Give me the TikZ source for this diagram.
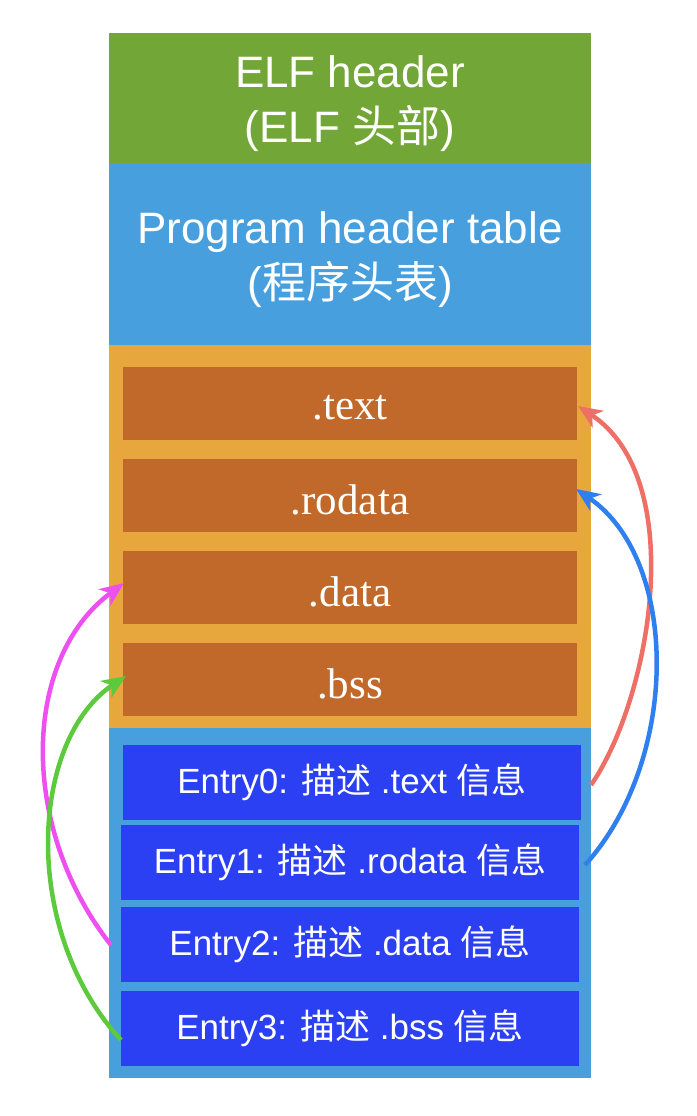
\documentclass[tikz,border=0pt]{standalone}
\usepackage{fontspec}
\setmainfont{Liberation Sans}
\newfontfamily\cjk{Noto Sans CJK SC}
\newfontfamily\serif{Liberation Serif}
\usetikzlibrary{arrows.meta}
\definecolor{cgreen}{HTML}{72A637}
\definecolor{cblue}{HTML}{479FDD}
\definecolor{corange}{HTML}{E8A73D}
\definecolor{csec}{HTML}{C1692A}
\definecolor{centry}{HTML}{2B3FF3}
\definecolor{cred}{HTML}{EE6F66}
\definecolor{carrb}{HTML}{2F7FEF}
\definecolor{cmag}{HTML}{EE4FF0}
\definecolor{cgr}{HTML}{5DC93D}
\begin{document}
\begin{tikzpicture}[x=1pt,y=-1pt,
 band/.style={draw=none,text=white,align=center,inner sep=0},
 sec/.style={fill=csec,text=white,inner sep=0,font=\serif\fontsize{43}{50}\selectfont},
 lbl/.style={text=white,inner sep=0,font=\serif\fontsize{43}{50}\selectfont},
 entry/.style={fill=centry,text=white,inner sep=0,font=\fontsize{35}{40}\selectfont},
 arr/.style={line width=4.5pt,-{Stealth[length=24pt,width=20pt,inset=7pt]}}]
\useasboundingbox (0,0) rectangle (696,1116);
\fill[cgreen] (109,33) rectangle (591,163);
\fill[cblue] (109,163) rectangle (591,345);
\fill[corange] (109,345) rectangle (591,728);
\fill[cblue] (109,728) rectangle (591,1078);
\node[band,font=\fontsize{44}{55}\selectfont] (elf) at (350,104) {ELF header\\(ELF {\cjk 头部})};
\node[band,font=\fontsize{44}{55}\selectfont] (pht) at (350,260) {Program header table\\({\cjk 程序头表})};
\node[sec,minimum width=454pt,minimum height=73pt] (text) at (350,403.5) {};
\node[sec,minimum width=454pt,minimum height=73pt] (rodata) at (350,495.5) {};
\node[sec,minimum width=454pt,minimum height=73pt] (data) at (350,587.5) {};
\node[sec,minimum width=454pt,minimum height=73pt] (bss) at (350,679.5) {};
\node[lbl] at ([yshift=-4pt]text.center) {.text};
\node[lbl] at ([yshift=-4pt]rodata.center) {.rodata};
\node[lbl] at ([yshift=-4pt]data.center) {.data};
\node[lbl] at ([yshift=-4pt]bss.center) {.bss};
\node[entry,minimum width=458pt,minimum height=75pt] (e0) at (352,782.5) {Entry0: {\cjk 描述} .text {\cjk 信息}};
\node[entry,minimum width=458pt,minimum height=75pt] (e1) at (350,862.5) {Entry1: {\cjk 描述} .rodata {\cjk 信息}};
\node[entry,minimum width=458pt,minimum height=75pt] (e2) at (350,944.5) {Entry2: {\cjk 描述} .data {\cjk 信息}};
\node[entry,minimum width=458pt,minimum height=75pt] (e3) at (350,1028.5) {Entry3: {\cjk 描述} .bss {\cjk 信息}};
\coordinate (a0) at (591,785); \coordinate (t0) at (578,406);
\coordinate (a1) at (585,865); \coordinate (t1) at (576,489);
\coordinate (a2) at (111,945); \coordinate (t2) at (124,583);
\coordinate (a3) at (121,1040); \coordinate (t3) at (126,676);
\draw[arr,cred] (a0) .. controls (650,700) and (690,480) .. (t0);
\draw[arr,carrb] (a1) .. controls (680,760) and (680,560) .. (t1);
\draw[arr,cmag] (a2) .. controls (20,830) and (20,660) .. (t2);
\draw[arr,cgr] (a3) .. controls (20,930) and (30,740) .. (t3);
\end{tikzpicture}
\end{document}
